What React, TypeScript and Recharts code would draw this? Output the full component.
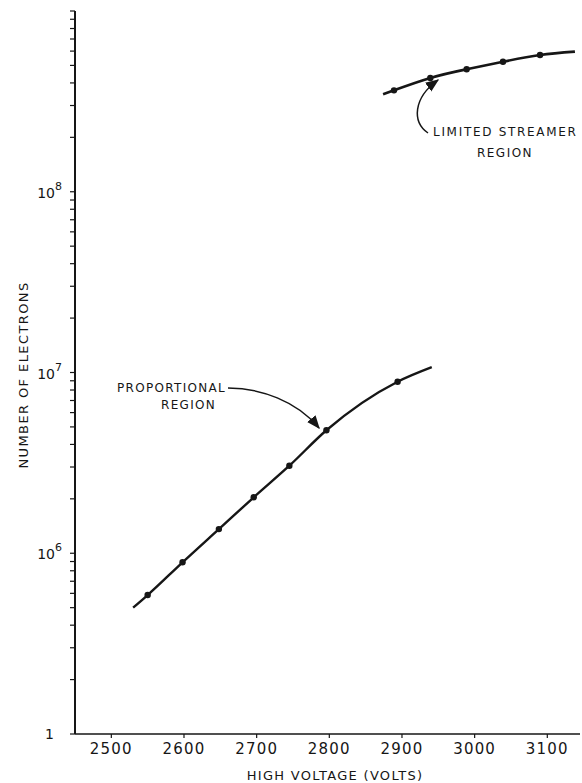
import React from "react";
import { LineChart, Line, XAxis, YAxis } from "recharts";

// proportional region (first and last entries are the drawn line ends, no dot)
const propVolts = [2530, 2550, 2598, 2648, 2696, 2745, 2796, 2894, 2941];
const propElectrons = [5.0e5, 5.87e5, 8.91e5, 1.36e6, 2.04e6, 3.05e6, 4.79e6, 8.89e6, 1.07e7];
const propMeasured = [false, true, true, true, true, true, true, true, false];

// limited streamer region
const streamVolts = [2874, 2889, 2939, 2989, 3039, 3090, 3138];
const streamElectrons = [3.46e8, 3.64e8, 4.26e8, 4.76e8, 5.24e8, 5.71e8, 5.96e8];
const streamMeasured = [false, true, true, true, true, true, false];

const xTicks = [2500, 2600, 2700, 2800, 2900, 3000, 3100];
const decades = [1e5, 1e6, 1e7, 1e8];
const minorSteps = [1, 2, 3, 4, 5, 6, 7, 8, 9];
const yTicks = [...decades.flatMap((d) => minorSteps.map((m) => m * d)), 1e9];

const INK = "#161616";
const FONT = "'DejaVu Sans', sans-serif";

const propData = propVolts.map((v, i) => ({ v, n: propElectrons[i], measured: propMeasured[i] }));
const streamData = streamVolts.map((v, i) => ({ v, n: streamElectrons[i], measured: streamMeasured[i] }));

const renderDot = (p: any) =>
  p.payload.measured ? (
    <circle key={p.index} cx={p.cx} cy={p.cy} r={3.2} fill={INK} />
  ) : (
    <g key={p.index} />
  );

const YTick = ({ x, y, payload }: any) => {
  const v = payload.value;
  const exp = Math.round(Math.log10(v));
  if (Math.abs(v - Math.pow(10, exp)) > 1e-6 * v || exp === 9) return <g />;
  if (exp === 5) {
    return (
      <text x={x - 8} y={y + 5} textAnchor="end" fontSize={14} fill={INK} fontFamily={FONT}>
        1
      </text>
    );
  }
  return (
    <text x={x} y={y + 6} textAnchor="end" fontSize={14} fill={INK} fontFamily={FONT}>
      10
      <tspan fontSize={11} dy={-8}>
        {exp}
      </tspan>
    </text>
  );
};

export default function App() {
  return (
    <div style={{ position: "absolute", left: 0, top: 0, width: 582, height: 783, background: "#fff" }}>
      <LineChart width={582} height={783} margin={{ top: 11, right: 2, bottom: 0, left: 0 }}>
        <XAxis
          dataKey="v"
          type="number"
          domain={[2450, 3145]}
          ticks={xTicks}
          allowDataOverflow
          height={49}
          tickSize={4}
          tickMargin={5}
          interval={0}
          axisLine={{ stroke: INK, strokeWidth: 1.5 }}
          tickLine={{ stroke: INK, strokeWidth: 1.2 }}
          tick={{ fill: INK, fontSize: 15, fontFamily: FONT, letterSpacing: 1.2 }}
        />
        <YAxis
          dataKey="n"
          type="number"
          scale="log"
          domain={[1e5, 1e9]}
          ticks={yTicks}
          allowDataOverflow
          interval={0}
          width={75}
          tickSize={5}
          tickMargin={8}
          axisLine={{ stroke: INK, strokeWidth: 2 }}
          tickLine={{ stroke: INK, strokeWidth: 1.2 }}
          tick={<YTick />}
        />
        <Line
          data={propData}
          dataKey="n"
          type="monotone"
          stroke={INK}
          strokeWidth={2.4}
          dot={renderDot}
          activeDot={false}
          isAnimationActive={false}
        />
        <Line
          data={streamData}
          dataKey="n"
          type="natural"
          stroke={INK}
          strokeWidth={2.6}
          dot={renderDot}
          activeDot={false}
          isAnimationActive={false}
        />
      </LineChart>
      <svg
        width={582}
        height={783}
        style={{ position: "absolute", left: 0, top: 0, pointerEvents: "none" }}
        fontFamily={FONT}
        fill={INK}
      >
        <defs>
          <marker id="head" viewBox="0 0 10 10" refX="9" refY="5" markerWidth="9" markerHeight="9" orient="auto">
            <path d="M0,1 L10,5 L0,9 Z" fill={INK} />
          </marker>
        </defs>
        <text x={226} y={392} textAnchor="end" fontSize={12} letterSpacing={1.3}>
          PROPORTIONAL
        </text>
        <text x={216} y={409} textAnchor="end" fontSize={12} letterSpacing={1.3}>
          REGION
        </text>
        <path d="M228 388 C260 388, 297 401, 319 428" fill="none" stroke={INK} strokeWidth={1.5} markerEnd="url(#head)" />
        <text x={433} y={136} fontSize={12} letterSpacing={1.7}>
          LIMITED STREAMER
        </text>
        <text x={505} y={157} textAnchor="middle" fontSize={12} letterSpacing={1.5}>
          REGION
        </text>
        <path d="M428 133 C412 122, 413 98, 438 80" fill="none" stroke={INK} strokeWidth={1.5} markerEnd="url(#head)" />
        <text x={335} y={780} textAnchor="middle" fontSize={13} letterSpacing={1.3}>
          HIGH VOLTAGE (VOLTS)
        </text>
        <text
          x={28}
          y={375}
          textAnchor="middle"
          fontSize={13}
          letterSpacing={1.4}
          transform="rotate(-90 28 375)"
        >
          NUMBER OF ELECTRONS
        </text>
      </svg>
    </div>
  );
}
